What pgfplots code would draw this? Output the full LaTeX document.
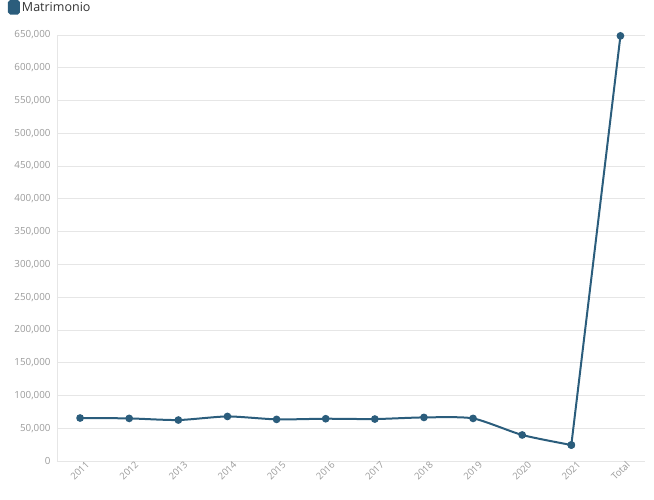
\documentclass[border=0pt]{standalone}
\usepackage{pgfplots}
\pgfplotsset{compat=1.18}
\usepackage{fontspec}
\setmainfont{Open Sans}
\definecolor{lineblue}{HTML}{2B5D7C}
\definecolor{gridgray}{HTML}{E6E6E6}
\definecolor{ticklab}{HTML}{9A9A9A}
\definecolor{legtext}{HTML}{333333}
\begin{document}
\begin{tikzpicture}
\useasboundingbox (0pt,0pt) rectangle (654pt,499pt);
\begin{axis}[
  at={(57pt,38pt)}, anchor=south west,
  scale only axis, width=588pt, height=426pt,
  xmin=-0.47, xmax=11.5, ymin=0, ymax=650000,
  xtick={0,...,11},
  xticklabels={2011,2012,2013,2014,2015,2016,2017,2018,2019,2020,2021,Total},
  x tick label style={rotate=45, anchor=north east, font=\fontsize{9.5}{10}\selectfont, text=ticklab, inner sep=0pt, xshift=4pt, yshift=-3pt},
  ytick={0,50000,...,650000},
  y tick label style={font=\fontsize{9.8}{11}\selectfont, text=ticklab, xshift=-3pt},
  scaled y ticks=false,
  /pgf/number format/.cd, fixed, 1000 sep={,}, assume math mode=true,
  /pgfplots/.cd,
  ymajorgrids, grid style={gridgray, line width=0.8pt},
  axis line style={gridgray, line width=0.8pt},
  axis x line*=bottom, axis y line*=left,
  major tick length=0pt,
  tick style={draw=none},
  clip=false,
  legend style={at={(0,1)}, anchor=north west, xshift=-49pt, yshift=35pt, draw=none, fill=none, font=\fontsize{12.5}{14}\selectfont\color{legtext}, inner sep=0pt, outer sep=0pt},
  legend image code/.code={\fill[lineblue, rounded corners=1.5pt] (0pt,-6pt) rectangle (10pt,6.5pt);},
]
\addplot[lineblue, line width=2pt, smooth, tension=0.4, mark=*, mark size=2.8pt, mark options={solid, fill=lineblue}] coordinates {
(0,65600) (1,65000) (2,62500) (3,68000) (4,63500) (5,64500) (6,64000) (7,66500) (8,65000) (9,39700) (10,24400)
};
\addlegendentry{Matrimonio}
\addplot[lineblue, line width=2pt, mark=*, mark size=2.8pt, mark options={solid, fill=lineblue}, forget plot] coordinates {
(10,24400) (11,648700)
};
\end{axis}
\end{tikzpicture}
\end{document}
